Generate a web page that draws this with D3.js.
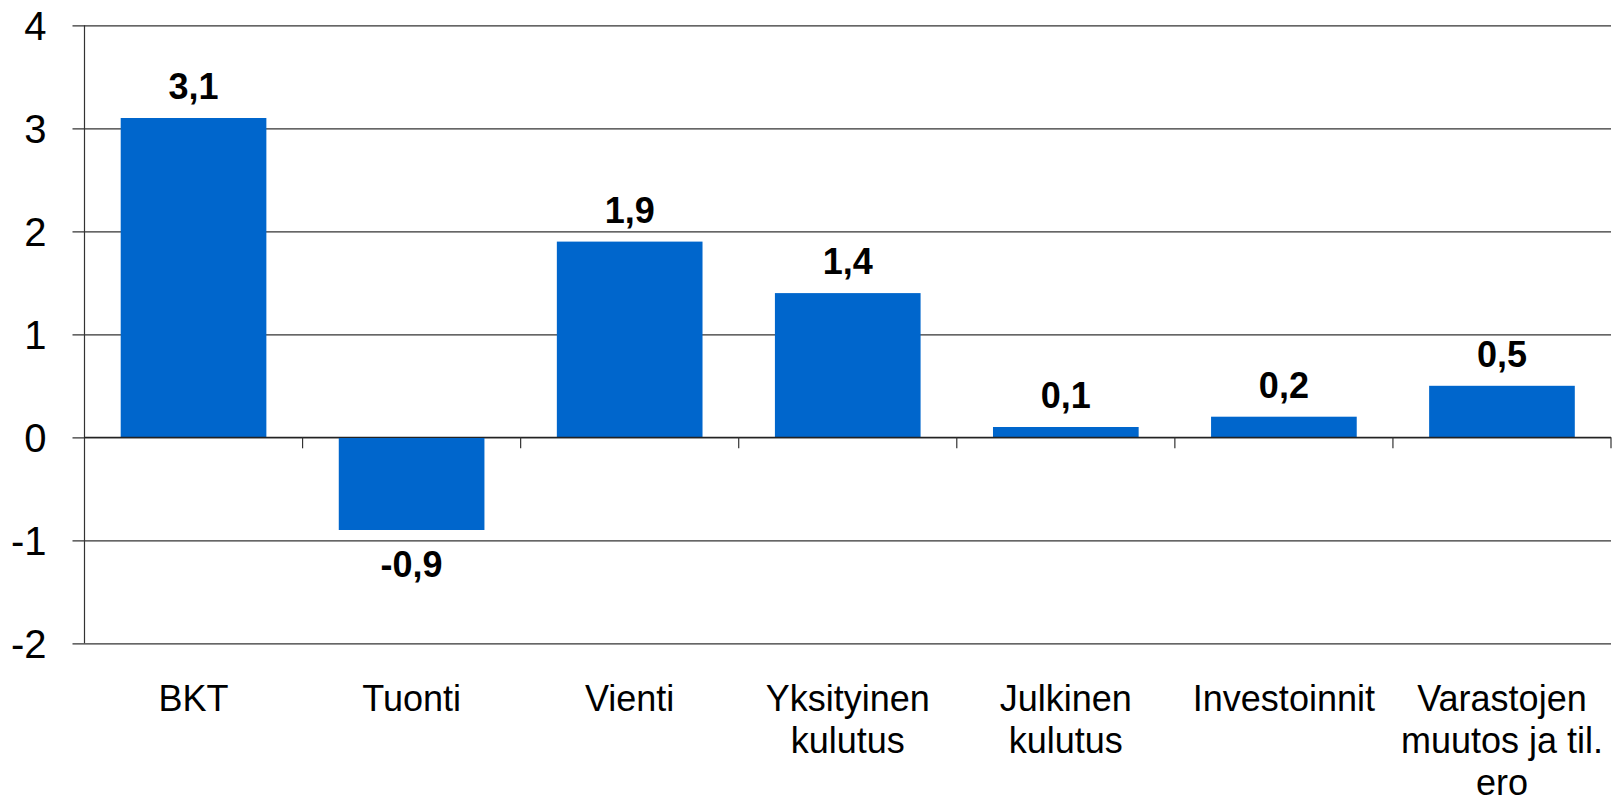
<!DOCTYPE html>
<html>
<head>
<meta charset="utf-8">
<script src="https://cdn.jsdelivr.net/npm/d3@7"></script>
<style>
  html, body { margin: 0; padding: 0; background: #fff; }
  svg { display: block; }
  text { font-family: "Liberation Sans", Arial, sans-serif; fill: #000; }
</style>
</head>
<body>
<svg id="chart" width="1613" height="802"></svg>
<script>
const categories = ["BKT", "Tuonti", "Vienti", "Yksityinen kulutus", "Julkinen kulutus", "Investoinnit", "Varastojen muutos ja til. ero"];
const categoryLines = [["BKT"], ["Tuonti"], ["Vienti"], ["Yksityinen", "kulutus"], ["Julkinen", "kulutus"], ["Investoinnit"], ["Varastojen", "muutos ja til.", "ero"]];
const values = [3.1, -0.9, 1.9, 1.4, 0.1, 0.2, 0.5];
const yTicks = [-2, -1, 0, 1, 2, 3, 4];

const svg = d3.select("#chart");
const mLeft = 84.5, mRight = 1611, mTop = 25.3, mBottom = 643.3;

const x = d3.scaleBand().domain(categories).range([mLeft, mRight]).paddingInner(0.332).paddingOuter(0.166);
const y = d3.scaleLinear().domain([-2, 4]).range([mBottom, mTop]);
const fmt = v => d3.format(".1f")(v).replace(".", ",").replace("−", "-");

// gridlines + y ticks
const yAxis = d3.axisLeft(y).tickValues(yTicks).tickSize(-(mRight - mLeft)).tickFormat(d => String(d)).tickPadding(38);
const gy = svg.append("g").attr("transform", `translate(${mLeft},0)`).call(yAxis);
gy.select(".domain").remove();
gy.selectAll(".tick line").attr("x1", -12).attr("stroke", "#333").attr("stroke-width", 1.2);
gy.selectAll(".tick text").attr("font-size", 40).attr("font-family", "Liberation Sans, Arial, sans-serif").attr("fill", "#000").attr("dy", "0.36em");

// left axis line
svg.append("line").attr("x1", mLeft).attr("x2", mLeft).attr("y1", mTop).attr("y2", mBottom).attr("stroke", "#333").attr("stroke-width", 1.2);

// bars
svg.append("g").selectAll("rect").data(values).join("rect")
  .attr("x", (d, i) => x(categories[i]))
  .attr("width", x.bandwidth())
  .attr("y", d => y(Math.max(0, d)))
  .attr("height", d => Math.abs(y(d) - y(0)))
  .attr("fill", "#0066cc");

// zero line on top
svg.append("line").attr("x1", mLeft).attr("x2", mRight).attr("y1", y(0)).attr("y2", y(0)).attr("stroke", "#222").attr("stroke-width", 1.2);

// x ticks at band boundaries
const step = x.step();
const boundaries = categories.map((c, i) => x(c) - x.paddingOuter() * step + step);
svg.append("g").selectAll("line").data(boundaries).join("line")
  .attr("x1", d => d).attr("x2", d => d)
  .attr("y1", y(0)).attr("y2", y(0) + 11)
  .attr("stroke", "#333").attr("stroke-width", 1.2);

// value labels
svg.append("g").selectAll("text").data(values).join("text")
  .attr("x", (d, i) => x(categories[i]) + x.bandwidth() / 2)
  .attr("y", d => d >= 0 ? y(d) - 19 : y(d) + 47)
  .attr("text-anchor", "middle")
  .attr("font-size", 36)
  .attr("font-weight", "bold")
  .text(d => fmt(d));

// category labels
const cl = svg.append("g").selectAll("text").data(categoryLines).join("text")
  .attr("x", (d, i) => x(categories[i]) + x.bandwidth() / 2)
  .attr("y", 711)
  .attr("text-anchor", "middle")
  .attr("font-size", 36);
cl.selectAll("tspan").data(d => d).join("tspan")
  .attr("x", function() { return d3.select(this.parentNode).attr("x"); })
  .attr("dy", (d, i) => i === 0 ? 0 : 42)
  .text(d => d);
</script>
</body>
</html>
